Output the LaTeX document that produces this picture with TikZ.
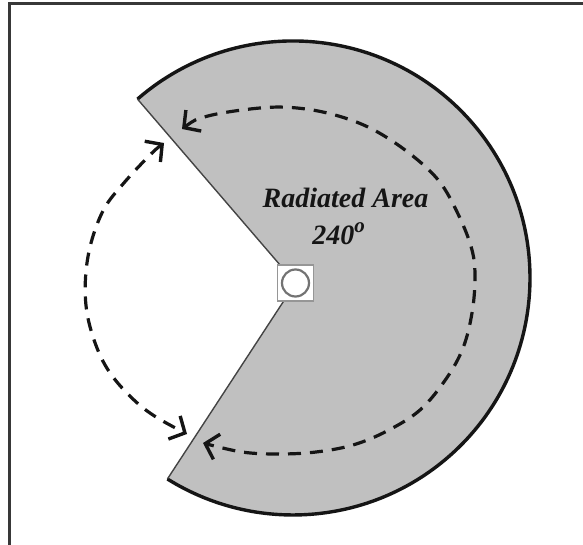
\documentclass[tikz,border=0pt]{standalone}
\usepackage{fontspec}
\setmainfont{Liberation Serif}
\usetikzlibrary{arrows.meta}
\definecolor{sector}{HTML}{C0C0C0}
\definecolor{ink}{HTML}{151515}
\tikzset{
  rim/.style={draw=ink, line width=3.4pt},
  edge/.style={draw=ink!80, line width=1.4pt},
  dasharc/.style={draw=ink, line width=3.2pt, dash pattern=on 13pt off 9pt,
    arrows={Straight Barb[length=12pt,width=26pt,line width=3.4pt]-Straight Barb[length=12pt,width=26pt,line width=3.4pt]}},
  labeltext/.style={text=ink, font=\fontsize{28}{36}\selectfont\bfseries\itshape, inner sep=0pt, align=center},
}
\begin{document}
\begin{tikzpicture}[x=1pt,y=1pt]
\useasboundingbox (0,0) rectangle (583,-545);
% frame
\draw[line width=2.2pt, draw=ink!85] (9.5,-545) -- (9.5,-3.5) -- (583,-3.5);
% sector
\coordinate (c) at (295.5,-283);
\coordinate (e1) at (137.5,-99.1);
\coordinate (e2) at (167.4,-479);
\fill[sector] (c) -- (e1) arc[start angle=131, end angle=-122, radius=237] -- cycle;
\draw[rim] (e1) arc[start angle=131, end angle=-122, radius=237];
\draw[edge] (e1) -- (c) -- (e2);
% source
\node[draw=ink!45, fill=white, line width=1.5pt, minimum size=36pt, inner sep=0pt] (src) at (c) {};
\node[draw=ink!60, fill=white, circle, line width=2.2pt, minimum size=27pt, inner sep=0pt] (srcc) at (c) {};
% label
\node[labeltext, anchor=base] (lab) at (345.5,-244) {Radiated Area\\240\raisebox{0.4em}{\fontsize{21}{21}\selectfont o}\hspace*{14pt}};
% dashed arrows
\draw[dasharc] plot[smooth, tension=0.6] coordinates {
 (182,-129) (208,-116) (260,-108) (297,-108) (335,-115) (372,-129) (409,-153)
 (439,-181) (459,-216) (472,-250) (475,-278) (472,-313) (463,-348) (446,-379)
 (420,-410) (387,-431) (353,-445) (316,-452) (279,-454) (242,-452) (203,-443)};
\draw[dasharc] plot[smooth, tension=0.6] coordinates {
 (164,-143) (149,-156) (123,-184) (104,-209) (91,-243) (85.5,-278) (87,-313)
 (97,-348) (111.5,-375) (134,-400) (156,-417) (187,-434)};
\end{tikzpicture}
\end{document}
